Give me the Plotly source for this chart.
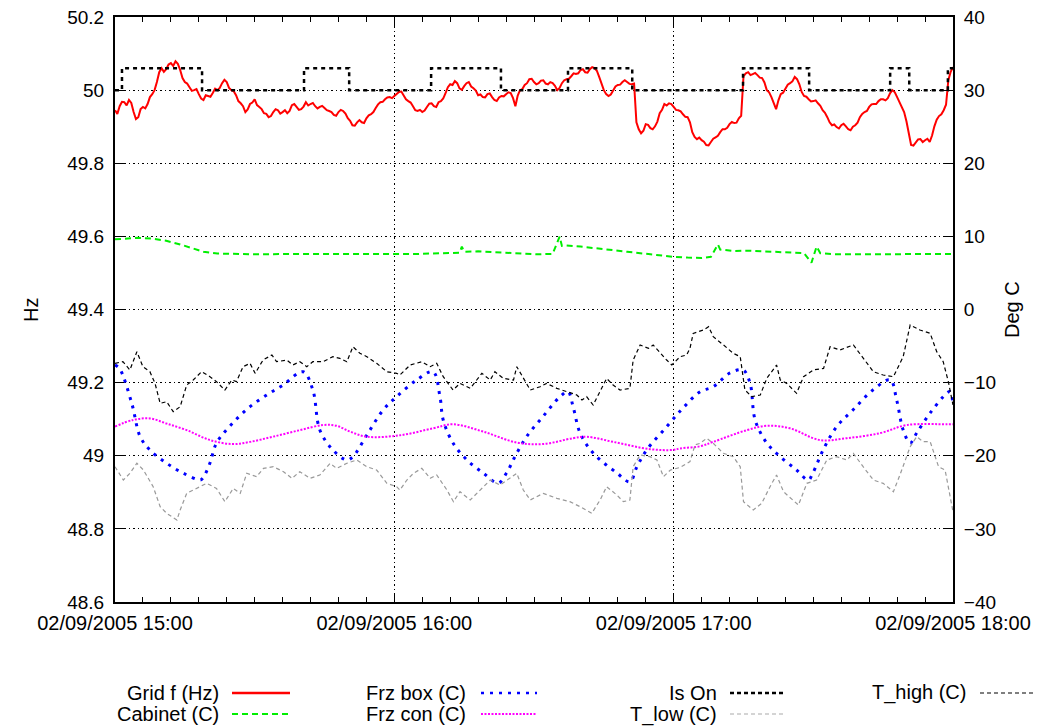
import numpy as np
import pandas as pd
import plotly.graph_objects as go

START = pd.Timestamp("2005-09-02 15:00")
END = START + pd.Timedelta(hours=3)

# Grid frequency (Hz), reading on each whole minute from 15:00 to 18:00
grid_f_hz = [
    49.945, 49.956, 49.967, 49.973, 49.940, 49.926, 49.954, 49.962, 49.989, 50.022,
    50.060, 50.057, 50.074, 50.079, 50.055, 50.022, 50.008, 50.000, 49.989, 49.973,
    49.984, 49.992, 50.000, 50.019, 50.022, 50.000, 49.986, 49.964, 49.940, 49.962,
    49.975, 49.954, 49.937, 49.926, 49.940, 49.945, 49.940, 49.937, 49.959, 49.954,
    49.948, 49.967, 49.962, 49.956, 49.954, 49.951, 49.943, 49.932, 49.940, 49.943,
    49.923, 49.904, 49.912, 49.912, 49.923, 49.934, 49.951, 49.967, 49.975, 49.981,
    49.984, 49.995, 49.986, 49.970, 49.956, 49.943, 49.940, 49.954, 49.964, 49.954,
    49.970, 49.992, 50.016, 50.025, 50.005, 50.011, 50.022, 50.005, 49.986, 49.981,
    49.989, 49.981, 49.970, 49.984, 49.989, 49.992, 49.956, 50.000, 50.014, 50.030,
    50.022, 50.019, 50.027, 50.016, 50.019, 50.000, 50.019, 50.030, 50.038, 50.044,
    50.055, 50.049, 50.057, 50.060, 50.036, 50.000, 49.984, 50.000, 50.014, 50.022,
    50.022, 50.016, 49.912, 49.882, 49.907, 49.896, 49.901, 49.937, 49.962, 49.964,
    49.954, 49.945, 49.934, 49.926, 49.885, 49.866, 49.863, 49.850, 49.858, 49.871,
    49.885, 49.893, 49.907, 49.910, 49.923, 50.038, 50.049, 50.044, 50.041, 50.033,
    50.000, 49.981, 49.948, 49.989, 50.005, 50.019, 50.036, 50.016, 49.984, 49.975,
    49.970, 49.964, 49.945, 49.926, 49.904, 49.899, 49.904, 49.901, 49.890, 49.904,
    49.926, 49.940, 49.954, 49.962, 49.970, 49.975, 49.978, 50.000, 49.981, 49.956,
    49.915, 49.850, 49.858, 49.866, 49.863, 49.858, 49.901, 49.929, 49.945, 50.027,
    50.063,
]

# Grid frequency (Hz), reading at each half minute (15:00:30 ... 17:59:30)
grid_f_hz_half = [
    49.935, 49.968, 49.958, 49.965, 49.921, 49.948, 49.950, 49.981, 50.000, 50.049,
    50.050, 50.070, 50.066, 50.072, 50.033, 50.018, 49.998, 50.003, 49.977, 49.986,
    49.982, 50.004, 50.006, 50.028, 50.006, 49.997, 49.970, 49.956, 49.947, 49.966,
    49.959, 49.948, 49.935, 49.929, 49.948, 49.936, 49.945, 49.943, 49.962, 49.946,
    49.955, 49.958, 49.965, 49.950, 49.957, 49.945, 49.940, 49.930, 49.946, 49.936,
    49.916, 49.903, 49.918, 49.910, 49.931, 49.940, 49.961, 49.968, 49.980, 49.978,
    49.991, 49.996, 49.975, 49.966, 49.945, 49.946, 49.944, 49.963, 49.956, 49.967,
    49.977, 50.008, 50.014, 50.019, 50.001, 50.019, 50.010, 49.999, 49.988, 49.980,
    49.991, 49.973, 49.980, 49.983, 49.994, 49.978, 49.985, 50.003, 50.019, 50.031,
    50.016, 50.026, 50.018, 50.022, 50.012, 50.006, 50.027, 50.031, 50.046, 50.046,
    50.057, 50.048, 50.063, 50.053, 50.016, 49.989, 49.988, 50.010, 50.015, 50.027,
    50.017, 50.018, 49.893, 49.889, 49.905, 49.893, 49.914, 49.946, 49.958, 49.962,
    49.946, 49.942, 49.927, 49.912, 49.872, 49.870, 49.859, 49.849, 49.867, 49.875,
    49.893, 49.897, 49.913, 49.911, 49.930, 50.046, 50.041, 50.047, 50.034, 50.021,
    49.994, 49.962, 49.972, 49.993, 50.015, 50.024, 50.030, 49.995, 49.982, 49.969,
    49.972, 49.957, 49.938, 49.912, 49.906, 49.895, 49.908, 49.893, 49.900, 49.911,
    49.935, 49.943, 49.961, 49.962, 49.975, 49.972, 49.992, 49.994, 49.966, 49.940,
    49.878, 49.848, 49.865, 49.858, 49.867, 49.876, 49.919, 49.934, 49.960, 50.050,
]

# Cabinet temperature (C)
cabinet_min = [0, 3, 5, 8, 11, 14, 17, 19, 22, 26, 30, 40, 50, 60, 65, 70, 74, 74.5, 75,
               78, 82, 86, 91, 94, 95.5, 96, 97, 100, 105, 110, 115, 120, 123, 126, 128,
               129.5, 130, 133, 136, 140, 145, 148, 149.6, 150.7, 151.5, 155, 160, 170, 180]
cabinet_c = [9.6, 9.75, 9.8, 9.7, 9.4, 8.9, 8.3, 7.9, 7.65, 7.55, 7.55, 7.6, 7.6, 7.55, 7.6,
             7.7, 7.75, 8.6, 7.9, 7.95, 7.8, 7.65, 7.55, 7.6, 9.95, 8.7, 8.75, 8.6, 8.3, 7.9,
             7.55, 7.2, 7.1, 7.05, 7.2, 8.9, 8.2, 8.0, 8.05, 7.95, 7.85, 7.7, 6.4, 8.6, 7.7,
             7.55, 7.55, 7.6, 7.6]

# Freezer box temperature (C)
frz_box_min = [0, 1.0, 3.6, 5.4, 7.5, 11.1, 14.7, 18.3, 18.9, 20.4, 21.8, 25.3, 29.0, 32.6,
               36.1, 40.4, 42.5, 44.0, 46.8, 49.8, 51.1, 54.1, 57.6, 60.5, 64.8, 68.3, 69.8,
               70.5, 72.6, 75.6, 79.1, 82.3, 84.1, 85.9, 88.4, 91.9, 95.6, 97.3, 98.4, 99.9,
               102.7, 107.8, 110.6, 112.1, 114.2, 118.5, 122.0, 125.7, 128.5, 132.1, 134.9,
               136.4, 137.5, 140.0, 142.9, 146.4, 148.9, 149.9, 152.1, 155.0, 158.5, 162.8,
               166.5, 167.9, 169.3, 170.8, 172.2, 175.1, 178.7, 179.4, 180]
frz_box_c = [-7.6, -8.1, -12.83, -17.39, -19.21, -21.03, -22.40, -23.32, -23.04, -20.99,
             -18.26, -15.52, -13.29, -11.69, -10.33, -8.51, -11.01, -16.48, -19.21, -20.58,
             -20.13, -17.16, -13.74, -11.92, -9.64, -8.51, -11.92, -15.11, -18.26, -20.58,
             -22.36, -23.73, -22.36, -20.13, -17.39, -14.66, -11.92, -11.24, -13.29, -16.89,
             -19.62, -22.36, -23.55, -21.50, -19.21, -16.03, -13.47, -11.24, -10.56, -8.68,
             -8.27, -10.05, -15.11, -18.26, -20.13, -21.95, -23.32, -22.36, -19.21, -16.03,
             -13.74, -11.01, -9.64, -12.38, -16.48, -18.26, -16.89, -14.15, -11.42, -11.24,
             -13.06]

# Freezer condenser temperature (C)
frz_con_min = [0, 3.9, 7.5, 11.1, 15.4, 20.4, 25.3, 29.0, 33.9, 39.7, 44.7, 47.6, 50.5, 54.1,
               61.2, 68.3, 72.6, 79.1, 86.3, 91.9, 98.4, 101.3, 107.0, 114.9, 119.9, 121.4,
               125.7, 128.5, 135.7, 140.0, 145.0, 151.4, 157.2, 164.4, 170.1, 178.7, 180]
frz_con_c = [-16.0, -15.1, -14.9, -15.6, -16.5, -17.85, -18.4, -18.1, -17.4, -16.5, -15.8,
             -15.9, -16.7, -17.4, -17.2, -16.25, -15.7, -16.7, -18.2, -18.4, -17.6, -17.4,
             -18.1, -19.1, -19.2, -19.0, -18.7, -18.1, -16.5, -15.9, -16.25, -17.85, -17.6,
             -16.9, -15.8, -15.7, -15.7]

# Compressor state changes (minute, 1 = on)
is_on_min = [0, 1.5, 18.7, 40.6, 50.3, 67.9, 82.9, 97.3, 111.1, 134.9, 149.1, 166.5, 170.6,
             178.9, 180]
is_on_state = [0, 1, 0, 1, 0, 1, 0, 1, 0, 1, 0, 1, 0, 1, 1]
IS_ON_OFF_HZ = 50.0
IS_ON_ON_HZ = 50.06

# Thermostat upper threshold (C)
t_high_min = [0, 1.7, 3.2, 4.7, 6.0, 7.5, 8.6, 9.7, 11.1, 12.5, 14.0, 15.4, 16.8, 18.6, 20.4,
              21.8, 23.6, 25.1, 26.1, 27.5, 29.0, 30.1, 31.8, 33.7, 34.7, 36.9, 38.2, 39.7,
              41.2, 42.5, 44.7, 46.8, 48.3, 49.8, 51.1, 52.6, 54.1, 56.2, 58.4, 60.5, 61.2,
              63.4, 65.9, 67.7, 69.1, 70.5, 72.6, 74.1, 76.3, 78.8, 80.6, 81.6, 83.4, 85.6,
              86.3, 87.7, 89.2, 91.3, 92.7, 94.9, 97.0, 99.2, 100.3, 101.3, 102.7, 104.2,
              105.6, 107.0, 108.5, 110.6, 111.3, 112.8, 114.6, 115.6, 117.1, 118.5, 119.6,
              120.7, 121.4, 122.8, 123.5, 124.2, 125.7, 126.4, 127.5, 128.5, 130.7, 132.8,
              134.3, 135.3, 136.8, 138.6, 140.0, 142.1, 142.9, 144.3, 146.4, 147.9, 150.0,
              152.2, 153.6, 155.7, 158.6, 160.7, 162.9, 165.0, 167.2, 169.3, 170.8, 172.9,
              175.1, 176.5, 177.9, 179.0, 180]
t_high_c = [-7.36, -7.14, -8.27, -5.77, -7.82, -8.51, -10.10, -12.83, -12.61, -13.97, -13.29,
            -10.33, -9.64, -8.51, -9.19, -9.87, -11.01, -9.64, -9.87, -7.82, -7.36, -8.73,
            -6.91, -6.22, -7.14, -6.91, -7.59, -7.14, -7.82, -7.14, -7.14, -6.45, -6.68,
            -7.14, -5.09, -5.99, -6.45, -7.36, -8.51, -8.73, -8.96, -7.59, -7.14, -7.82,
            -7.36, -9.19, -11.01, -10.10, -10.78, -8.73, -9.64, -8.51, -9.42, -9.64, -7.82,
            -9.42, -11.01, -10.56, -10.10, -10.78, -11.24, -11.69, -12.38, -11.92, -13.06,
            -11.24, -9.42, -10.33, -11.01, -10.78, -6.91, -4.85, -5.31, -4.85, -5.99, -6.91,
            -7.59, -6.91, -6.45, -6.22, -5.31, -3.26, -3.00, -2.80, -2.35, -3.72, -4.85,
            -5.99, -6.45, -11.01, -11.92, -11.69, -9.42, -7.59, -9.64, -10.10, -11.46, -9.19,
            -8.27, -8.05, -5.09, -5.54, -4.85, -6.68, -8.51, -8.96, -9.19, -6.45, -2.12,
            -2.80, -3.26, -5.77, -7.14, -9.87, -13.06]

# Thermostat lower threshold (C)
t_low_min = [0, 1.8, 3.2, 4.7, 6.1, 8.2, 9.7, 11.1, 13.3, 14.0, 15.4, 17.6, 19.7, 21.8, 23.6,
             25.4, 26.9, 28.3, 30.4, 31.9, 34.0, 36.2, 38.0, 39.7, 41.9, 44.0, 46.2, 47.6,
             49.8, 51.9, 54.1, 56.2, 58.4, 60.5, 61.2, 62.7, 64.1, 65.9, 67.7, 69.1, 71.3,
             72.7, 74.1, 76.3, 78.4, 80.6, 82.7, 86.3, 87.7, 89.2, 92.0, 94.9, 97.7, 99.9,
             102.4, 104.2, 105.6, 107.8, 109.2, 110.6, 111.3, 112.8, 114.9, 116.4, 117.8,
             119.3, 121.4, 123.5, 124.6, 125.7, 127.1, 128.5, 130.7, 132.8, 134.3, 135.0,
             137.1, 138.9, 140.7, 142.1, 143.6, 145.7, 146.8, 148.6, 150.7, 152.9, 155.0,
             157.2, 158.6, 160.7, 162.9, 165.0, 167.2, 168.6, 170.8, 172.2, 173.6, 175.1,
             176.9, 178.3, 179.4, 180]
t_low_c = [-21.50, -23.32, -22.40, -21.03, -21.95, -24.23, -26.97, -27.87, -28.79, -27.42,
           -25.14, -24.46, -23.77, -24.46, -26.28, -24.46, -25.14, -22.40, -22.86, -21.72,
           -21.50, -22.18, -23.09, -22.18, -23.09, -22.63, -21.03, -21.72, -21.03, -20.58,
           -21.50, -21.95, -23.77, -24.23, -24.69, -23.32, -22.40, -21.72, -23.09, -22.63,
           -24.69, -26.28, -24.92, -26.05, -24.69, -23.32, -24.00, -22.40, -24.69, -26.05,
           -25.14, -25.82, -26.28, -26.97, -27.87, -26.05, -24.23, -25.37, -26.28, -26.05,
           -21.50, -19.89, -20.13, -20.58, -22.86, -21.95, -21.60, -20.80, -18.50, -18.30,
           -17.61, -18.30, -19.67, -20.13, -21.50, -26.28, -27.42, -26.51, -24.23, -22.63,
           -24.92, -26.05, -26.74, -23.77, -23.32, -20.58, -20.13, -20.58, -19.67, -21.50,
           -23.32, -23.77, -24.92, -22.63, -18.76, -17.39, -18.08, -18.08, -21.50, -21.95,
           -25.37, -27.65]

for a, b in [(cabinet_min, cabinet_c), (frz_box_min, frz_box_c), (frz_con_min, frz_con_c),
             (is_on_min, is_on_state), (t_high_min, t_high_c), (t_low_min, t_low_c)]:
    assert len(a) == len(b), (len(a), len(b))
assert len(grid_f_hz_half) == len(grid_f_hz) - 1


def at(minutes):
    return START + pd.to_timedelta(np.asarray(minutes, dtype=float), unit="min")


# Merge whole-minute and half-minute frequency readings in time order
grid_min = []
grid_val = []
for i, v in enumerate(grid_f_hz):
    grid_min.append(i)
    grid_val.append(v)
    if i < len(grid_f_hz_half):
        grid_min.append(i + 0.5)
        grid_val.append(grid_f_hz_half[i])

FONT = "Liberation Sans, Arial, sans-serif"
W, H = 1038, 728
ML, MR, MT, MB = 115, 85, 17, 126
PW, PH = W - ML - MR, H - MT - MB


def px(x):
    return (x - ML) / PW


def py(y):
    return (H - MB - y) / PH


series = [
    # name, x, y, axis, colour, width, dash, shape
    ("Grid f (Hz)", at(grid_min), grid_val, "y", "#ff0000", 2, "solid", "linear"),
    ("Cabinet (C)", at(cabinet_min), cabinet_c, "y2", "#00ee00", 2, "6px,4px", "linear"),
    ("Frz box (C)", at(frz_box_min), frz_box_c, "y2", "#0000ff", 3, "3px,6px", "spline"),
    ("Frz con (C)", at(frz_con_min), frz_con_c, "y2", "#ff00ff", 2, "2px,1.5px", "spline"),
    ("Is On", at(is_on_min),
     [IS_ON_ON_HZ if s else IS_ON_OFF_HZ for s in is_on_state], "y", "#000000", 2.5, "4px,4px", "hv"),
    ("T_low (C)", at(t_low_min), t_low_c, "y2", "#999999", 1.2, "4px,3px", "linear"),
    ("T_high (C)", at(t_high_min), t_high_c, "y2", "#000000", 1.2, "4px,3px", "linear"),
]

fig = go.Figure()
for name, x, y, ax, col, wd, dash, shape in series:
    fig.add_trace(go.Scatter(
        x=x, y=y, name=name, yaxis=ax, mode="lines",
        line=dict(color=col, width=wd, dash=dash, shape=shape),
        showlegend=False, hoverinfo="skip",
    ))

axis_common = dict(
    ticks="inside", ticklen=9, tickwidth=1, tickcolor="black",
    showline=True, linecolor="black", linewidth=2,
    zeroline=False, automargin=False,
)

fig.update_layout(
    width=W, height=H,
    margin=dict(l=ML, r=MR, t=MT, b=MB, pad=0, autoexpand=False),
    paper_bgcolor="white", plot_bgcolor="white",
    font=dict(family=FONT, size=20, color="black"),
    showlegend=False,
    xaxis=dict(
        type="date", range=[START, END], tick0=START, dtick=3600000,
        tickformat="%d/%m/%Y %H:%M", mirror="ticks",
        showgrid=True, gridcolor="black", gridwidth=1, griddash="1.5px,3px",
        minor=dict(tick0=START, dtick=360000, ticks="inside", ticklen=5,
                   tickcolor="black", showgrid=False),
        tickfont=dict(family=FONT, size=20, color="black"),
        ticklabelstandoff=2,
        **axis_common,
    ),
    yaxis=dict(
        range=[48.6, 50.2], tick0=48.6, dtick=0.2, mirror="ticks",
        showgrid=True, gridcolor="black", gridwidth=1, griddash="1.5px,3px",
        tickfont=dict(family=FONT, size=19, color="black"),
        ticklabelstandoff=5,
        **axis_common,
    ),
    yaxis2=dict(
        range=[-40, 40], tick0=-40, dtick=10, overlaying="y", side="right",
        showgrid=False, ticklabelstandoff=5,
        tickfont=dict(family=FONT, size=19, color="black"),
        **axis_common,
    ),
)

# Axis titles
fig.add_annotation(x=px(18), y=py(310), xref="paper", yref="paper", text="Hz",
                   textangle=-90, showarrow=False, font=dict(family=FONT, size=20))
fig.add_annotation(x=px(1025), y=py(310), xref="paper", yref="paper", text="Deg C",
                   textangle=-90, showarrow=False, font=dict(family=FONT, size=20))

# Key below the plot: label right-aligned, line sample to its right
key = [
    ("Grid f (Hz)", 221, 232, 290, 693, "#ff0000", 2.5, "solid"),
    ("Cabinet (C)", 221, 232, 290, 714, "#00ee00", 2, "6px,4px"),
    ("Frz box (C)", 468, 481, 537, 693, "#0000ff", 2.5, "3px,6px"),
    ("Frz con (C)", 468, 481, 537, 714, "#ff00ff", 2, "2px,1.5px"),
    ("Is On", 719, 730, 785, 693, "#000000", 2.5, "4px,3px"),
    ("T_low (C)", 719, 730, 785, 714, "#aaaaaa", 1.2, "4px,3px"),
    ("T_high (C)", 968, 980, 1033, 693, "#000000", 1.2, "4px,3px"),
]
for label, tx, x0, x1, yy, col, wd, dash in key:
    fig.add_annotation(x=px(tx), y=py(yy), xref="paper", yref="paper", text=label,
                       xanchor="right", yanchor="middle", showarrow=False,
                       font=dict(family=FONT, size=20, color="black"))
    fig.add_shape(type="line", xref="paper", yref="paper",
                  x0=px(x0), x1=px(x1), y0=py(yy), y1=py(yy),
                  line=dict(color=col, width=wd, dash=dash))

fig.write_html("out.html")
